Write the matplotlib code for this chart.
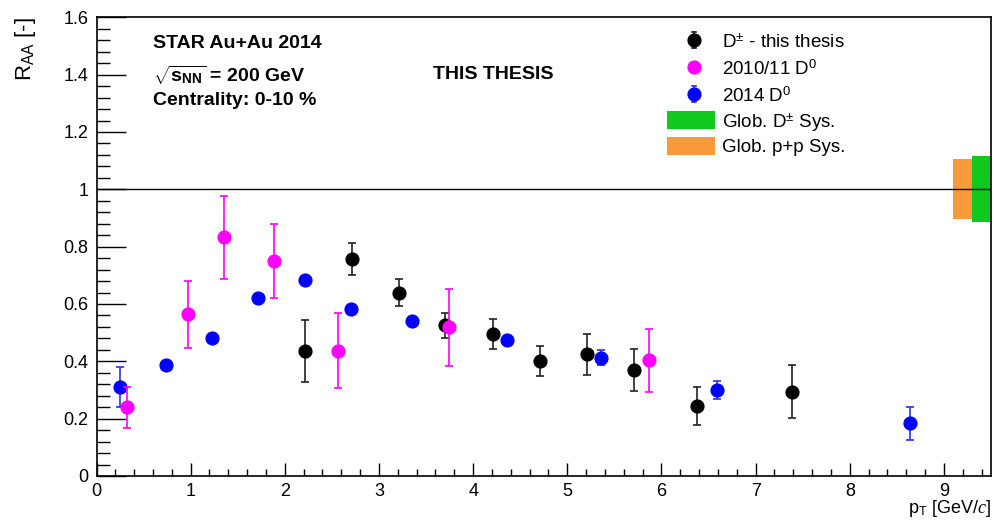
import matplotlib
matplotlib.use('Agg')
import matplotlib.pyplot as plt
from matplotlib.lines import Line2D
from matplotlib.patches import Rectangle
from matplotlib.ticker import MultipleLocator, FuncFormatter

plt.rcParams['font.family'] = ['Liberation Sans', 'DejaVu Sans']
plt.rcParams['mathtext.fontset'] = 'custom'
plt.rcParams['mathtext.rm'] = 'Liberation Sans'
plt.rcParams['mathtext.bf'] = 'Liberation Sans:bold'
plt.rcParams['mathtext.it'] = 'Liberation Serif:italic'

# D+- R_AA (this thesis)
dpm_pt = [2.21, 2.71, 3.21, 3.70, 4.21, 4.71, 5.21, 5.71, 6.38, 7.39]
dpm_raa = [0.437, 0.757, 0.639, 0.526, 0.495, 0.401, 0.425, 0.369, 0.244, 0.294]
dpm_err = [0.108, 0.055, 0.047, 0.043, 0.052, 0.052, 0.072, 0.074, 0.067, 0.092]

# 2010/11 D0 R_AA
d0_1011_pt = [0.325, 0.97, 1.357, 1.888, 2.56, 3.745, 5.87]
d0_1011_raa = [0.239, 0.564, 0.832, 0.750, 0.437, 0.518, 0.404]
d0_1011_err = [0.072, 0.116, 0.145, 0.128, 0.130, 0.133, 0.110]

# 2014 D0 R_AA
d0_2014_pt = [0.25, 0.74, 1.227, 1.718, 2.213, 2.707, 3.356, 4.356, 5.36, 6.593, 8.64]
d0_2014_raa = [0.311, 0.387, 0.482, 0.621, 0.683, 0.583, 0.539, 0.474, 0.413, 0.300, 0.184]
d0_2014_err = [0.070, 0.010, 0.012, 0.015, 0.015, 0.015, 0.015, 0.015, 0.025, 0.032, 0.057]

# global systematic boxes around unity: p+p (orange) and D+- (green)
sys_center = [9.2, 9.4]
sys_halfwidth = [0.105, 0.115]
sys_colors = ['#f99a3a', '#10c81e']

W, H = 994, 521
fig = plt.figure(figsize=(W / 100, H / 100), dpi=100)
ax = fig.add_axes([96.5 / W, 1 - 476 / H, (991 - 96.5) / W, (476 - 17.3) / H])


def fx(px):
    return px / W


def fy(py):
    return 1 - py / H


ax.set_xlim(0, 9.5)
ax.set_ylim(0, 1.6)

# systematic boxes
ax.bar(sys_center, [2 * h for h in sys_halfwidth], width=0.2,
       bottom=[1 - h for h in sys_halfwidth], color=sys_colors, zorder=1,
       linewidth=0)
ax.axhline(1.0, color='black', lw=1.0, zorder=2)

mk = 9.2
ax.errorbar(dpm_pt, dpm_raa, yerr=dpm_err, fmt='o', color='black', ms=mk,
            ecolor='#222222', elinewidth=1.2, capsize=3, capthick=1.2, zorder=3)
ax.errorbar(d0_2014_pt, d0_2014_raa, yerr=d0_2014_err, fmt='o', color='#0000ff', ms=mk,
            ecolor='#3030e0', elinewidth=1.2, capsize=3, capthick=1.2, zorder=4)
ax.errorbar(d0_1011_pt, d0_1011_raa, yerr=d0_1011_err, fmt='o', color='#ff00ff', ms=mk,
            ecolor='#ff00ff', elinewidth=1.2, capsize=3, capthick=1.2, zorder=5)

# axes styling
for s in ax.spines.values():
    s.set_linewidth(1.2)
ax.xaxis.set_major_locator(MultipleLocator(1))
ax.xaxis.set_minor_locator(MultipleLocator(0.2))
ax.yaxis.set_major_locator(MultipleLocator(0.2))
ax.yaxis.set_minor_locator(MultipleLocator(0.04))
ax.yaxis.set_major_formatter(FuncFormatter(lambda v, p: '%g' % round(v, 2)))
ax.xaxis.set_major_formatter(FuncFormatter(lambda v, p: '%g' % round(v, 2)))
ax.tick_params(axis='both', which='both', direction='in', top=False, right=False,
               width=1.0, labelsize=13, colors='black')
ax.tick_params(axis='y', which='major', length=21, pad=6)
ax.tick_params(axis='y', which='minor', length=9.5)
ax.tick_params(axis='x', which='major', length=9.5, pad=5)
ax.tick_params(axis='x', which='minor', length=5)

# axis titles
fig.text(fx(25), fy(17), r'R$_{\mathrm{AA}}$ [-]', rotation=90, ha='center', va='top',
         fontsize=16)
fig.text(fx(991), fy(513), r'p$_{\mathrm{T}}$ [GeV/$c$]', ha='right', va='baseline',
         fontsize=13)

# annotations
fig.text(fx(153), fy(48), 'STAR Au+Au 2014', fontsize=14, fontweight='bold', va='baseline')
fig.text(fx(153), fy(82), r'$\sqrt{\mathbf{s}_{\mathbf{NN}}}$ = 200 GeV', fontsize=14,
         fontweight='bold', va='baseline')
fig.text(fx(153), fy(105), 'Centrality: 0-10 %', fontsize=14, fontweight='bold', va='baseline')
fig.text(fx(433), fy(79), 'THIS THESIS', fontsize=14, fontweight='bold', va='baseline')

# legend
leg_rows = [
    (40, 'black', '#222222', r'D$^{\mathrm{\pm}}$ - this thesis', 8),
    (67, '#ff00ff', '#ff00ff', r'2010/11 D$^{\mathrm{0}}$', 5),
    (94, '#0000ff', '#3030e0', r'2014 D$^{\mathrm{0}}$', 8),
]
mx = 694
for py, c, ec, label, half in leg_rows:
    fig.add_artist(Line2D([fx(mx), fx(mx)], [fy(py - half), fy(py + half)],
                          color=ec, lw=1.2, transform=fig.transFigure))
    for yy in (py - half, py + half):
        fig.add_artist(Line2D([fx(mx - 2), fx(mx + 2)], [fy(yy), fy(yy)],
                              color=ec, lw=1.2, transform=fig.transFigure))
    fig.add_artist(Line2D([fx(mx)], [fy(py)], marker='o', ms=mk, color=c, lw=0,
                          transform=fig.transFigure))
    fig.text(fx(722), fy(py), label, fontsize=13.5, va='center_baseline', ha='left')

box_rows = [
    (111, 129, sys_colors[1], r'Glob. D$^{\mathrm{\pm}}$ Sys.'),
    (137, 155, sys_colors[0], 'Glob. p+p Sys.'),
]
for top, bot, c, label in box_rows:
    fig.add_artist(Rectangle((fx(667), fy(bot)), (715 - 667) / W, (bot - top) / H,
                             color=c, lw=0, transform=fig.transFigure))
    fig.text(fx(722), fy((top + bot) / 2), label, fontsize=13.5, va='center_baseline', ha='left')

fig.savefig('out.png', dpi=100, facecolor='white')
